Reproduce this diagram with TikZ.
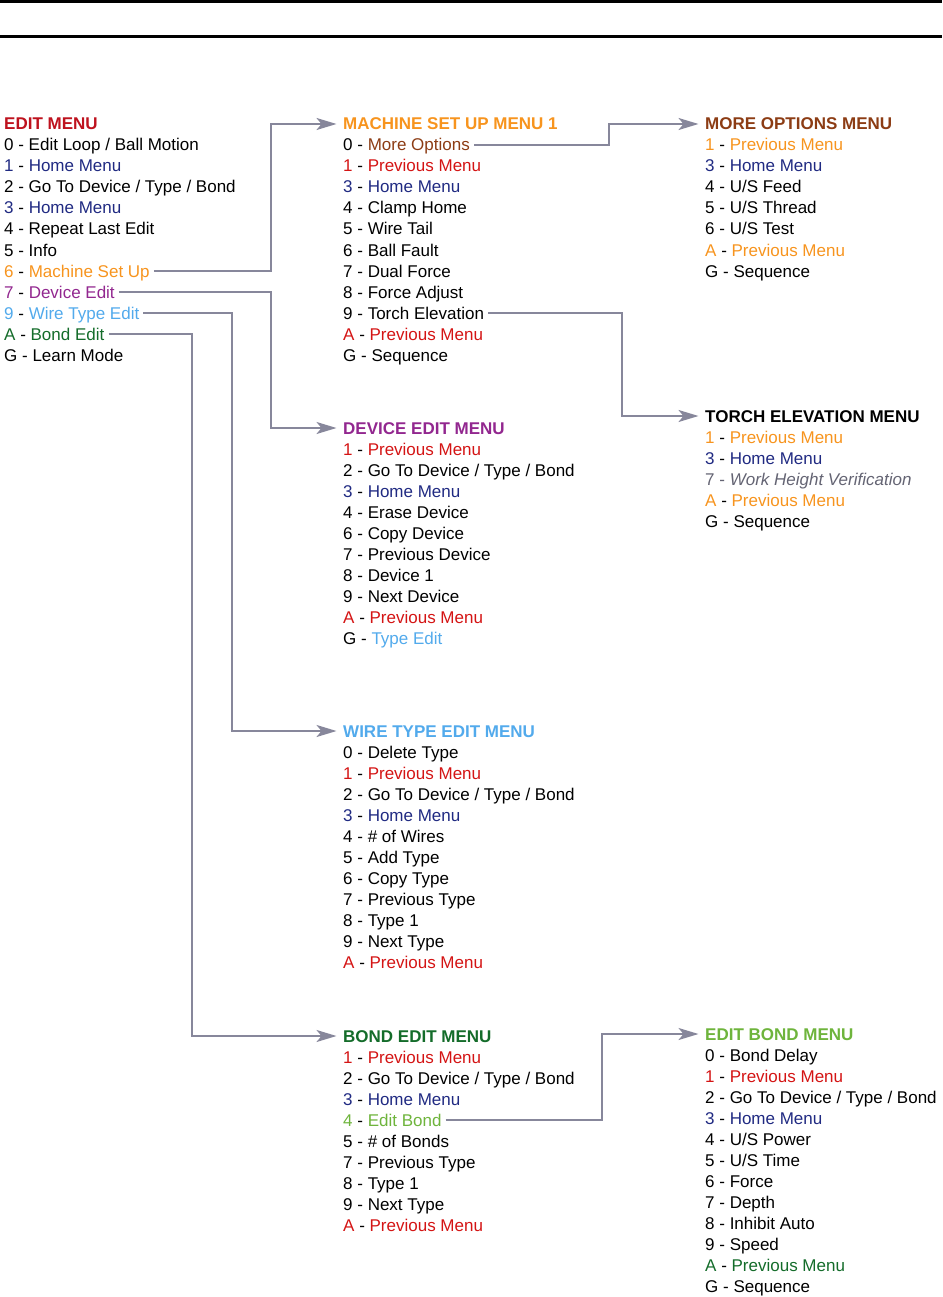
\documentclass[tikz,border=0pt]{standalone}
\usepackage{fontspec}
\setmainfont{Liberation Sans}
\usepackage{tikz}
\usetikzlibrary{arrows.meta}

\definecolor{titlered}{RGB}{190,18,30}
\definecolor{menured}{RGB}{212,20,20}
\definecolor{navy}{RGB}{32,42,130}
\definecolor{setorange}{RGB}{247,148,30}
\definecolor{devpurple}{RGB}{146,39,143}
\definecolor{wireblue}{RGB}{82,170,236}
\definecolor{bondgreen}{RGB}{20,108,42}
\definecolor{editgreen}{RGB}{110,180,60}
\definecolor{optbrown}{RGB}{140,60,20}
\definecolor{hintgray}{RGB}{100,100,115}
\definecolor{linkgray}{RGB}{135,135,155}

\newcommand{\mitem}[3]{\textcolor{#1}{#2} - \textcolor{#1}{#3}}

\begin{document}
\begin{tikzpicture}[x=1pt, y=-1pt,
  itm/.style={anchor=base west, inner sep=0pt, text height=12pt, text depth=0pt, font=\fontsize{17}{21}\selectfont},
  ttl/.style={itm, font=\fontsize{17}{21}\selectfont\bfseries},
  conn/.style={draw=linkgray, line width=2pt, -{Stealth[length=20pt,width=12pt,inset=5pt]}, shorten <=4pt, shorten >=6.5pt}]
  \useasboundingbox (0,0) rectangle (942,1297);
  % page rules
  \draw[line width=3pt] (0,1.5) -- (942,1.5);
  \draw[line width=3pt] (0,36.2) -- (942,36.2);

  % edit menu
  \node[ttl, text=titlered] (edit) at (4,130) {EDIT MENU};
  \node[itm] (ed0) at (4,151) {0 - Edit Loop / Ball Motion};
  \node[itm] (ed1) at (4,172) {\mitem{navy}{1}{Home Menu}};
  \node[itm] (ed2) at (4,193) {2 - Go To Device / Type / Bond};
  \node[itm] (ed3) at (4,214) {\mitem{navy}{3}{Home Menu}};
  \node[itm] (ed4) at (4,235) {4 - Repeat Last Edit};
  \node[itm] (ed5) at (4,256) {5 - Info};
  \node[itm] (ed6) at (4,277) {\mitem{setorange}{6}{Machine Set Up}};
  \node[itm] (ed7) at (4,298) {\mitem{devpurple}{7}{Device Edit}};
  \node[itm] (ed9) at (4,319) {\mitem{wireblue}{9}{Wire Type Edit}};
  \node[itm] (edA) at (4,340) {\mitem{bondgreen}{A}{Bond Edit}};
  \node[itm] (edG) at (4,361) {G - Learn Mode};

  % machine set up menu
  \node[ttl, text=setorange] (setup) at (343,130) {MACHINE SET UP MENU 1};
  \node[itm] (su0) at (343,151) {0 - \textcolor{optbrown}{More Options}};
  \node[itm] (su1) at (343,172) {\mitem{menured}{1}{Previous Menu}};
  \node[itm] (su3) at (343,193) {\mitem{navy}{3}{Home Menu}};
  \node[itm] (su4) at (343,214) {4 - Clamp Home};
  \node[itm] (su5) at (343,235) {5 - Wire Tail};
  \node[itm] (su6) at (343,256) {6 - Ball Fault};
  \node[itm] (su7) at (343,277) {7 - Dual Force};
  \node[itm] (su8) at (343,298) {8 - Force Adjust};
  \node[itm] (su9) at (343,319) {9 - Torch Elevation};
  \node[itm] (suA) at (343,340) {\mitem{menured}{A}{Previous Menu}};
  \node[itm] (suG) at (343,361) {G - Sequence};

  % more options menu
  \node[ttl, text=optbrown] (more) at (705,130) {MORE OPTIONS MENU};
  \node[itm] (mo1) at (705,151) {\mitem{setorange}{1}{Previous Menu}};
  \node[itm] (mo3) at (705,172) {\mitem{navy}{3}{Home Menu}};
  \node[itm] (mo4) at (705,193) {4 - U/S Feed};
  \node[itm] (mo5) at (705,214) {5 - U/S Thread};
  \node[itm] (mo6) at (705,235) {6 - U/S Test};
  \node[itm] (moA) at (705,256) {\mitem{setorange}{A}{Previous Menu}};
  \node[itm] (moG) at (705,277) {G - Sequence};

  % torch elevation menu
  \node[ttl] (torch) at (705,422) {TORCH ELEVATION MENU};
  \node[itm] (te1) at (705,443) {\mitem{setorange}{1}{Previous Menu}};
  \node[itm] (te3) at (705,464) {\mitem{navy}{3}{Home Menu}};
  \node[itm, text=hintgray] (te7) at (705,485) {7 - \itshape Work Height Verification};
  \node[itm] (teA) at (705,506) {\mitem{setorange}{A}{Previous Menu}};
  \node[itm] (teG) at (705,527) {G - Sequence};

  % device edit menu
  \node[ttl, text=devpurple] (device) at (343,434) {DEVICE EDIT MENU};
  \node[itm] (de1) at (343,455) {\mitem{menured}{1}{Previous Menu}};
  \node[itm] (de2) at (343,476) {2 - Go To Device / Type / Bond};
  \node[itm] (de3) at (343,497) {\mitem{navy}{3}{Home Menu}};
  \node[itm] (de4) at (343,518) {4 - Erase Device};
  \node[itm] (de6) at (343,539) {6 - Copy Device};
  \node[itm] (de7) at (343,560) {7 - Previous Device};
  \node[itm] (de8) at (343,581) {8 - Device 1};
  \node[itm] (de9) at (343,602) {9 - Next Device};
  \node[itm] (deA) at (343,623) {\mitem{menured}{A}{Previous Menu}};
  \node[itm] (deG) at (343,644) {G - \textcolor{wireblue}{Type Edit}};

  % wire type edit menu
  \node[ttl, text=wireblue] (wire) at (343,737) {WIRE TYPE EDIT MENU};
  \node[itm] (wt0) at (343,758) {0 - Delete Type};
  \node[itm] (wt1) at (343,779) {\mitem{menured}{1}{Previous Menu}};
  \node[itm] (wt2) at (343,800) {2 - Go To Device / Type / Bond};
  \node[itm] (wt3) at (343,821) {\mitem{navy}{3}{Home Menu}};
  \node[itm] (wt4) at (343,842) {4 - \# of Wires};
  \node[itm] (wt5) at (343,863) {5 - Add Type};
  \node[itm] (wt6) at (343,884) {6 - Copy Type};
  \node[itm] (wt7) at (343,905) {7 - Previous Type};
  \node[itm] (wt8) at (343,926) {8 - Type 1};
  \node[itm] (wt9) at (343,947) {9 - Next Type};
  \node[itm] (wtA) at (343,968) {\mitem{menured}{A}{Previous Menu}};

  % bond edit menu
  \node[ttl, text=bondgreen] (bond) at (343,1042) {BOND EDIT MENU};
  \node[itm] (be1) at (343,1063) {\mitem{menured}{1}{Previous Menu}};
  \node[itm] (be2) at (343,1084) {2 - Go To Device / Type / Bond};
  \node[itm] (be3) at (343,1105) {\mitem{navy}{3}{Home Menu}};
  \node[itm] (be4) at (343,1126) {\mitem{editgreen}{4}{Edit Bond}};
  \node[itm] (be5) at (343,1147) {5 - \# of Bonds};
  \node[itm] (be7) at (343,1168) {7 - Previous Type};
  \node[itm] (be8) at (343,1189) {8 - Type 1};
  \node[itm] (be9) at (343,1210) {9 - Next Type};
  \node[itm] (beA) at (343,1231) {\mitem{menured}{A}{Previous Menu}};

  % edit bond menu
  \node[ttl, text=editgreen] (ebond) at (705,1040) {EDIT BOND MENU};
  \node[itm] (eb0) at (705,1061) {0 - Bond Delay};
  \node[itm] (eb1) at (705,1082) {\mitem{menured}{1}{Previous Menu}};
  \node[itm] (eb2) at (705,1103) {2 - Go To Device / Type / Bond};
  \node[itm] (eb3) at (705,1124) {\mitem{navy}{3}{Home Menu}};
  \node[itm] (eb4) at (705,1145) {4 - U/S Power};
  \node[itm] (eb5) at (705,1166) {5 - U/S Time};
  \node[itm] (eb6) at (705,1187) {6 - Force};
  \node[itm] (eb7) at (705,1208) {7 - Depth};
  \node[itm] (eb8) at (705,1229) {8 - Inhibit Auto};
  \node[itm] (eb9) at (705,1250) {9 - Speed};
  \node[itm] (ebA) at (705,1271) {\mitem{bondgreen}{A}{Previous Menu}};
  \node[itm] (ebG) at (705,1292) {G - Sequence};

  % links
  \draw[conn] (ed6.east) -| ([xshift=-72pt]setup.west) -- (setup.west);
  \draw[conn] (ed7.east) -| ([xshift=-72pt]device.west) -- (device.west);
  \draw[conn] (ed9.east) -| ([xshift=-111pt]wire.west) -- (wire.west);
  \draw[conn] (edA.east) -| ([xshift=-151pt]bond.west) -- (bond.west);
  \draw[conn] (su0.east) -| ([xshift=-96pt]more.west) -- (more.west);
  \draw[conn] (su9.east) -| ([xshift=-83pt]torch.west) -- (torch.west);
  \draw[conn] (be4.east) -| ([xshift=-103pt]ebond.west) -- (ebond.west);
\end{tikzpicture}
\end{document}
